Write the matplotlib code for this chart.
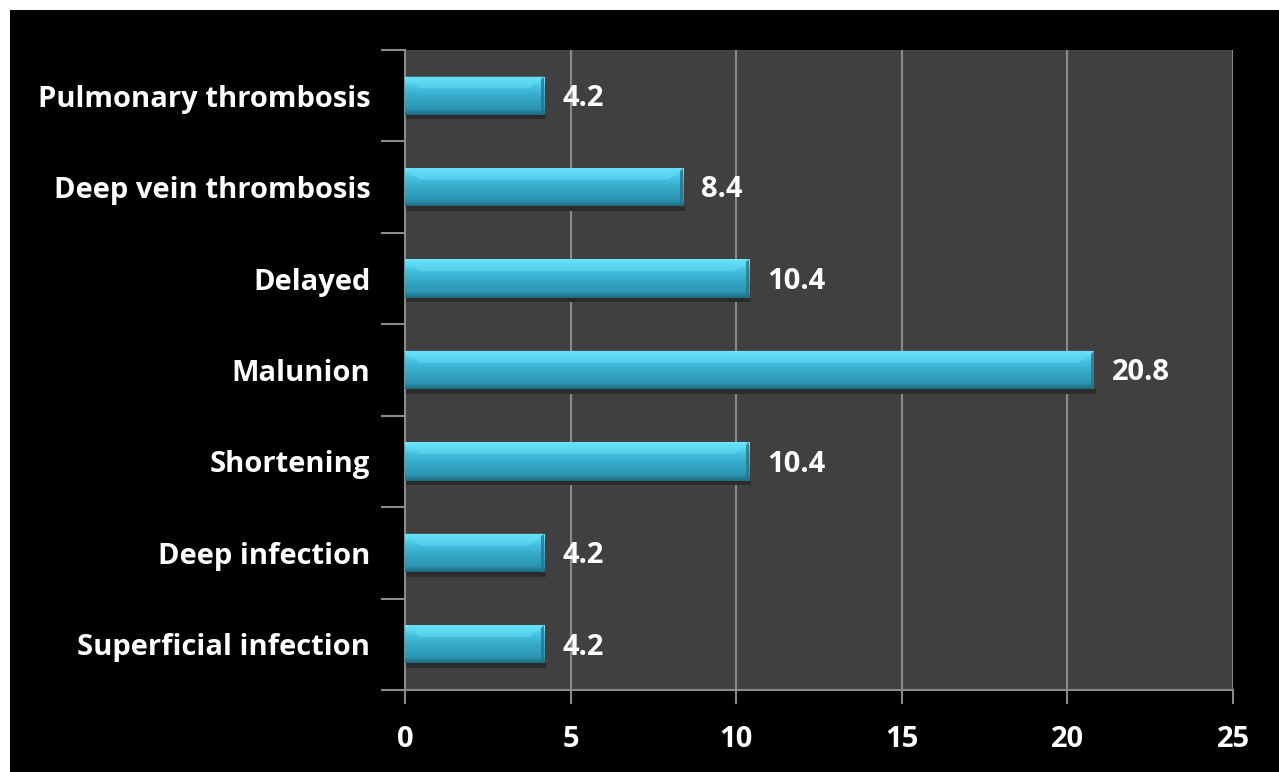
import matplotlib.pyplot as plt
import numpy as np
from matplotlib.colors import LinearSegmentedColormap
from matplotlib.patches import Polygon, Rectangle

categories = ["Pulmonary thrombosis", "Deep vein thrombosis", "Delayed", "Malunion",
              "Shortening", "Deep infection", "Superficial infection"]
values = [4.2, 8.4, 10.4, 20.8, 10.4, 4.2, 4.2]
value_labels = ["4.2", "8.4", "10.4", "20.8", "10.4", "4.2", "4.2"]
xticks = [0, 5, 10, 15, 20, 25]

plt.rcParams['font.family'] = ['Open Sans', 'DejaVu Sans']

fig = plt.figure(figsize=(12.79, 7.72), dpi=100, facecolor='white')
# black panel behind the chart
fig.add_artist(Rectangle((10 / 1279, 0), 1, 1 - 10 / 772, transform=fig.transFigure,
                         facecolor='black', edgecolor='none', zorder=-5))

ax = fig.add_axes([405 / 1279, 82 / 772, 828 / 1279, 640 / 772])
ax.set_zorder(1)
ax.set_facecolor('#404040')

grid_col = '#8a8a8a'
for x in xticks[1:]:
    ax.axvline(x, color=grid_col, lw=1.5, zorder=1)

for s in ['left', 'bottom']:
    ax.spines[s].set_color(grid_col)
    ax.spines[s].set_linewidth(1.5)
ax.spines['right'].set_visible(False)
ax.spines['top'].set_visible(False)

# bar gradient (top to bottom)
cmap = LinearSegmentedColormap.from_list('bar', [
    (0.0, '#7eeeff'), (0.1, '#5fdcf6'), (0.3, '#44bfdf'),
    (0.55, '#35a8c7'), (0.85, '#2c96b3'), (1.0, '#1d6a80')])
grad = np.linspace(0, 1, 64).reshape(-1, 1)

h = 0.42
dx = 0.45
bh = 0.13
for i, v in enumerate(values):
    top = i - h / 2
    bot = i + h / 2
    # shadow
    ax.add_patch(Rectangle((0, bot), v + 0.06, 0.05, facecolor='#2c2c2c',
                           edgecolor='none', zorder=2))
    rect = Rectangle((0, top), v, h, facecolor='none', edgecolor='none', zorder=3)
    ax.add_patch(rect)
    im = ax.imshow(grad, cmap=cmap, aspect='auto', extent=(0, v, bot, top),
                   zorder=3, interpolation='bilinear')
    im.set_clip_path(rect)
    # bevel on the top face
    ax.add_patch(Polygon([(0, top), (v, top), (v - dx, top + bh), (dx, top + bh)],
                         closed=True, facecolor='#62dcf5', edgecolor='none',
                         alpha=0.55, zorder=4))
    # darker right edge
    ax.add_patch(Polygon([(v, top), (v, bot), (v - 0.1, bot), (v - 0.1, top + 0.03)],
                         closed=True, facecolor='#1f7890', edgecolor='none',
                         alpha=0.8, zorder=4))
    ax.text(v + 0.55, i + 0.03, value_labels[i], color='white', fontsize=21,
            fontweight='bold', va='center', ha='left', zorder=5)

ax.set_xlim(0, 25)
ax.set_ylim(len(categories) - 0.5, -0.5)
ax.set_xticks(xticks)
ax.set_xticklabels([str(x) for x in xticks])
ax.set_yticks(range(len(categories)))
ax.set_yticklabels(categories)
ax.set_yticks(np.arange(-0.5, len(categories), 1), minor=True)
ax.tick_params(axis='y', which='major', length=0, pad=25, labelsize=21,
               labelcolor='white')
ax.tick_params(axis='y', which='minor', length=17, width=1.5, color=grid_col)
ax.tick_params(axis='x', length=10, width=1.5, color=grid_col, pad=15,
               labelsize=21, labelcolor='white')
for lab in ax.get_xticklabels() + ax.get_yticklabels():
    lab.set_fontweight('bold')

fig.savefig('out.png', dpi=100, facecolor='white')
